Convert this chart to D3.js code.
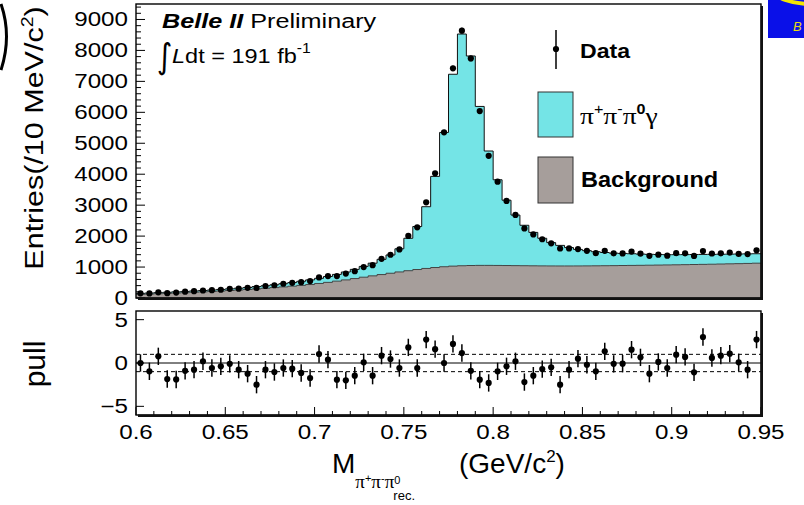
<!DOCTYPE html>
<html>
<head>
<meta charset="utf-8">
<script src="https://cdn.jsdelivr.net/npm/d3@7"></script>
<style>
  body { margin: 0; background: #fff; }
  svg { display: block; }
  text { font-family: "Liberation Sans", Arial, Helvetica, sans-serif; }
</style>
</head>
<body>
<svg id="chart" width="804" height="505"></svg>
<script>
// Bin centres of the recoil three-pion mass (GeV/c^2), 5 MeV wide bins
const massCenters = [
  0.6025, 0.6075, 0.6125, 0.6175, 0.6225, 0.6275, 0.6325, 0.6375, 0.6425, 0.6475,
  0.6525, 0.6575, 0.6625, 0.6675, 0.6725, 0.6775, 0.6825, 0.6875, 0.6925, 0.6975,
  0.7025, 0.7075, 0.7125, 0.7175, 0.7225, 0.7275, 0.7325, 0.7375, 0.7425, 0.7475,
  0.7525, 0.7575, 0.7625, 0.7675, 0.7725, 0.7775, 0.7825, 0.7875, 0.7925, 0.7975,
  0.8025, 0.8075, 0.8125, 0.8175, 0.8225, 0.8275, 0.8325, 0.8375, 0.8425, 0.8475,
  0.8525, 0.8575, 0.8625, 0.8675, 0.8725, 0.8775, 0.8825, 0.8875, 0.8925, 0.8975,
  0.9025, 0.9075, 0.9125, 0.9175, 0.9225, 0.9275, 0.9325, 0.9375, 0.9425, 0.9475
];
const binWidth = 0.005;

// Observed entries per bin
const dataCounts = [
  150, 149, 182, 157, 175, 205, 222, 243, 253, 266,
  296, 302, 328, 325, 388, 412, 460, 490, 510, 546,
  665, 708, 710, 790, 866, 1000, 1060, 1265, 1398, 1570,
  2005, 2283, 3093, 4030, 5352, 7420, 8637, 7742, 6040, 4595,
  3760, 3137, 2686, 2247, 2055, 1898, 1768, 1600, 1602, 1580,
  1525, 1450, 1525, 1445, 1440, 1500, 1433, 1362, 1400, 1368,
  1450, 1445, 1360, 1519, 1438, 1445, 1467, 1423, 1420, 1541
];

// Fitted total (signal + background) per bin
const totalModel = [
  150, 160, 172, 184, 198, 213, 228, 243, 259, 276,
  295, 316, 340, 370, 395, 427, 462, 500, 540, 585,
  636, 695, 762, 840, 925, 1020, 1125, 1250, 1390, 1590,
  1930, 2310, 2950, 3930, 5350, 7230, 8530, 7820, 6190, 4750,
  3820, 3160, 2680, 2350, 2120, 1930, 1790, 1700, 1630, 1570,
  1530, 1495, 1470, 1450, 1440, 1430, 1420, 1412, 1405, 1400,
  1400, 1402, 1405, 1408, 1410, 1414, 1418, 1422, 1426, 1430
];

// Fitted background component per bin
const backgroundModel = [
  120, 128, 138, 148, 160, 172, 185, 198, 212, 226,
  242, 258, 276, 295, 315, 336, 358, 382, 407, 435,
  470, 505, 545, 585, 628, 672, 715, 757, 800, 842,
  882, 920, 955, 985, 1010, 1030, 1042, 1050, 1054, 1054,
  1052, 1049, 1046, 1043, 1040, 1038, 1036, 1035, 1035, 1036,
  1038, 1040, 1043, 1046, 1050, 1053, 1056, 1060, 1064, 1068,
  1072, 1077, 1082, 1087, 1092, 1098, 1104, 1110, 1117, 1125
];

// Pull of each bin, (data - fit) / error
const pulls = [
   0.0, -0.96,  0.77, -1.85, -1.9, -0.9, -0.77,  0.2, -0.58, -0.38,
  -0.1, -0.77, -1.23, -2.5, -0.77, -1.04, -0.58, -0.65, -1.15, -1.73,
   1.04,  0.38, -1.92, -2.0, -1.46,  0.08, -1.46,  0.85,  0.46, -0.58,
   1.8, -0.58,  2.7,  1.6,  0.0,  2.2,  1.15, -0.9, -1.92, -2.3,
  -0.96, -0.38,  0.2, -2.2, -1.46, -0.7, -0.5, -2.5, -0.77,  0.5,
  -0.2, -0.96,  1.35, -0.1, -0.08,  1.54,  0.65, -1.23,  0.12, -0.58,
   0.96,  0.7, -1.08,  3.0,  0.58,  0.85,  1.08,  0.08, -0.77,  2.7
];

const yTickValues = [0, 1000, 2000, 3000, 4000, 5000, 6000, 7000, 8000, 9000];
const pullTickValues = [-5, 0, 5];
const xTickValues = [0.6, 0.65, 0.7, 0.75, 0.8, 0.85, 0.9, 0.95];
const xTickLabels = ["0.6", "0.65", "0.7", "0.75", "0.8", "0.85", "0.9", "0.95"];

const colSignal = "#74e4e6";
const colBkg = "#a69e9b";

const svg = d3.select("#chart");

// Layout of the two pads
const L = 136, R = 761;
const mainTop = 4, mainBot = 298;
const pullTop = 311, pullBot = 415;

const x = d3.scaleLinear().domain([0.6, 0.95]).range([L, R]);
const y = d3.scaleLinear().domain([0, 9500]).range([mainBot, mainTop]);
const yp = d3.scaleLinear().domain([-6, 6]).range([pullBot, pullTop]);

// Horizontal glyph stretch used throughout the canvas text
const SX = 1.24;
function label(g, str, px, py, opts = {}) {
  const t = g.append("text")
    .attr("transform", `translate(${px},${py}) scale(${opts.sx || SX},1)`)
    .attr("font-size", opts.size || 20)
    .attr("text-anchor", opts.anchor || "start")
    .attr("fill", opts.fill || "#000");
  if (opts.weight) t.attr("font-weight", opts.weight);
  if (opts.style) t.attr("font-style", opts.style);
  t.text(str);
  return t;
}

svg.append("defs").append("clipPath").attr("id", "mainClip")
  .append("rect").attr("x", L).attr("y", mainTop).attr("width", R - L).attr("height", mainBot - mainTop);

// Step histograms
function stepPoints(vals) {
  const pts = massCenters.map((c, i) => [c - binWidth / 2, vals[i]]);
  pts.push([massCenters[massCenters.length - 1] + binWidth / 2, vals[vals.length - 1]]);
  return pts;
}
const area = d3.area().curve(d3.curveStepAfter)
  .x(d => x(d[0])).y0(y(0)).y1(d => y(d[1]));
const line = d3.line().curve(d3.curveStepAfter)
  .x(d => x(d[0])).y(d => y(d[1]));

const hg = svg.append("g").attr("clip-path", "url(#mainClip)");
hg.append("path").datum(stepPoints(totalModel)).attr("d", area).attr("fill", colSignal);
hg.append("path").datum(stepPoints(totalModel)).attr("d", line)
  .attr("fill", "none").attr("stroke", "#111").attr("stroke-width", 1);
hg.append("path").datum(stepPoints(backgroundModel)).attr("d", area).attr("fill", colBkg);
hg.append("path").datum(stepPoints(backgroundModel)).attr("d", line)
  .attr("fill", "none").attr("stroke", "#444").attr("stroke-width", 1);

// Data points with Poisson errors
const dg = svg.append("g");
dg.selectAll("line.err").data(massCenters).join("line")
  .attr("x1", d => x(d)).attr("x2", d => x(d))
  .attr("y1", (d, i) => y(dataCounts[i] + Math.sqrt(dataCounts[i])))
  .attr("y2", (d, i) => y(dataCounts[i] - Math.sqrt(dataCounts[i])))
  .attr("stroke", "#000").attr("stroke-width", 1.5);
dg.selectAll("circle").data(massCenters).join("circle")
  .attr("cx", d => x(d)).attr("cy", (d, i) => y(dataCounts[i]))
  .attr("r", 3.1).attr("fill", "#000");

// Main pad y-axis ticks (inward) and labels
const axg = svg.append("g");
const minorY = d3.range(0, 9401, 200);
axg.selectAll("line.ty").data(minorY).join("line")
  .attr("x1", L).attr("x2", d => L + (d % 1000 === 0 ? 9 : 5))
  .attr("y1", d => y(d)).attr("y2", d => y(d))
  .attr("stroke", "#000").attr("stroke-width", 1);
yTickValues.forEach(v => label(axg, String(v), 128, y(v) + 7, { anchor: "end", size: 19.5 }));

// Frames with the darker lower/right edge
function frame(top, bot) {
  svg.append("rect").attr("x", L).attr("y", top).attr("width", R - L).attr("height", bot - top)
    .attr("fill", "none").attr("stroke", "#000").attr("stroke-width", 1.4);
  svg.append("line").attr("x1", R + 0.8).attr("x2", R + 0.8).attr("y1", top + 2).attr("y2", bot + 2)
    .attr("stroke", "#111").attr("stroke-width", 2.4);
  svg.append("line").attr("x1", L + 2).attr("x2", R + 2).attr("y1", bot + 0.8).attr("y2", bot + 0.8)
    .attr("stroke", "#111").attr("stroke-width", 2.4);
}
frame(mainTop, mainBot);

// Pull pad
const pg = svg.append("g");
[-1, 1].forEach(v => pg.append("line")
  .attr("x1", L).attr("x2", R).attr("y1", yp(v)).attr("y2", yp(v))
  .attr("stroke", "#000").attr("stroke-width", 1).attr("stroke-dasharray", "4,3"));
pg.append("line").attr("x1", L).attr("x2", R).attr("y1", yp(0)).attr("y2", yp(0))
  .attr("stroke", "#000").attr("stroke-width", 1);
pg.selectAll("line.perr").data(massCenters).join("line")
  .attr("x1", d => x(d)).attr("x2", d => x(d))
  .attr("y1", (d, i) => yp(pulls[i] + 1)).attr("y2", (d, i) => yp(pulls[i] - 1))
  .attr("stroke", "#000").attr("stroke-width", 1.5);
pg.selectAll("circle").data(massCenters).join("circle")
  .attr("cx", d => x(d)).attr("cy", (d, i) => yp(pulls[i]))
  .attr("r", 3.1).attr("fill", "#000");
pullTickValues.forEach(v => pg.append("line")
  .attr("x1", L).attr("x2", L + 8).attr("y1", yp(v)).attr("y2", yp(v))
  .attr("stroke", "#000").attr("stroke-width", 1));
pullTickValues.forEach(v => label(pg, v < 0 ? "\u2212" + Math.abs(v) : String(v), 128, yp(v) + 7, { anchor: "end", size: 19.5 }));

// x ticks along the pull pad bottom
const minorX = d3.range(60, 96, 1).map(v => v / 100);
pg.selectAll("line.tx").data(minorX).join("line")
  .attr("x1", d => x(d)).attr("x2", d => x(d))
  .attr("y1", pullBot).attr("y2", (d, i) => pullBot - (i % 5 === 0 ? 8 : 4))
  .attr("stroke", "#000").attr("stroke-width", 1);
xTickValues.forEach((v, i) => label(pg, xTickLabels[i], x(v), 439, { anchor: "middle", size: 19.5 }));
frame(pullTop, pullBot);

// Axis titles
const ytitle = svg.append("text")
  .attr("transform", "translate(43,138) rotate(-90) scale(1,0.85)")
  .attr("text-anchor", "middle").attr("font-size", 30.5);
ytitle.append("tspan").text("Entries(/10 MeV/c");
ytitle.append("tspan").attr("font-size", 19.5).attr("dy", -12).text("2");
ytitle.append("tspan").attr("dy", 12).text(")");

svg.append("text").attr("transform", "translate(45,364) rotate(-90)")
  .attr("text-anchor", "middle").attr("font-size", 30).text("pull");

const xtitle = svg.append("text").attr("transform", "translate(332,473)")
  .attr("font-size", 28);
xtitle.append("tspan").text("M");
xtitle.append("tspan").attr("font-size", 19).attr("dy", 15).style("font-family", "'Liberation Serif', serif").text("\u03c0");
xtitle.append("tspan").attr("font-size", 11).attr("dy", -6).text("+");
xtitle.append("tspan").attr("font-size", 19).attr("dy", 6).style("font-family", "'Liberation Serif', serif").text("\u03c0");
xtitle.append("tspan").attr("font-size", 11).attr("dy", -6).text("-");
xtitle.append("tspan").attr("font-size", 19).attr("dy", 6).style("font-family", "'Liberation Serif', serif").text("\u03c0");
xtitle.append("tspan").attr("font-size", 11).attr("dy", -4).text("0");
xtitle.append("tspan").attr("font-size", 13).attr("dx", -7).attr("dy", 16).text("rec.");
xtitle.append("tspan").attr("font-size", 28).attr("dy", -27).attr("x", 127).text("(GeV/c");
xtitle.append("tspan").attr("font-size", 17).attr("dy", -11).text("2");
xtitle.append("tspan").attr("font-size", 28).attr("dy", 11).text(")");

// Collaboration label and luminosity
const bl = svg.append("text").attr("transform", "translate(162,28) scale(1.2,1)").attr("font-size", 21);
bl.append("tspan").attr("font-weight", "bold").attr("font-style", "italic").text("Belle II");
bl.append("tspan").text(" Preliminary");

svg.append("text").attr("transform", "translate(157,68) scale(1,1.15)").attr("font-size", 30)
  .style("font-family", "'DejaVu Sans', sans-serif").text("\u222b");
const lum = svg.append("text").attr("transform", "translate(172,63) scale(1.12,1)").attr("font-size", 21);
lum.append("tspan").attr("font-style", "italic").text("L");
lum.append("tspan").text("dt = 191 fb");
lum.append("tspan").attr("font-size", 14).attr("dy", -10).text("-1");

// Legend
const lg = svg.append("g");
lg.append("line").attr("x1", 556).attr("x2", 556).attr("y1", 30).attr("y2", 69)
  .attr("stroke", "#000").attr("stroke-width", 1.5);
lg.append("circle").attr("cx", 556).attr("cy", 49).attr("r", 3.1).attr("fill", "#000");
label(lg, "Data", 580, 58, { size: 21, weight: "bold", sx: 1.1 });
lg.append("rect").attr("x", 538).attr("y", 92).attr("width", 35).attr("height", 45)
  .attr("fill", colSignal).attr("stroke", "#333").attr("stroke-width", 1);
const sigLab = lg.append("text").attr("transform", "translate(580,124) scale(1.15,1)").attr("font-size", 24)
  .style("font-family", "'Liberation Serif', serif");
sigLab.append("tspan").text("\u03c0");
sigLab.append("tspan").attr("font-size", 14).attr("dy", -10).style("font-family", "'Liberation Sans', sans-serif").text("+");
sigLab.append("tspan").attr("dy", 10).text("\u03c0");
sigLab.append("tspan").attr("font-size", 14).attr("dy", -10).style("font-family", "'Liberation Sans', sans-serif").text("-");
sigLab.append("tspan").attr("dy", 10).text("\u03c0");
sigLab.append("tspan").attr("font-size", 14).attr("dy", -10).attr("font-weight", "bold").style("font-family", "'Liberation Sans', sans-serif").text("0");
sigLab.append("tspan").attr("dy", 10).text("\u03b3");
lg.append("rect").attr("x", 538).attr("y", 157).attr("width", 35).attr("height", 46)
  .attr("fill", colBkg).attr("stroke", "#333").attr("stroke-width", 1);
label(lg, "Background", 581, 187, { size: 22, weight: "bold", sx: 1.07 });

// Slide decorations at the edges
svg.append("rect").attr("x", 768).attr("y", 0).attr("width", 36).attr("height", 38).attr("fill", "#0a10e8");
svg.append("ellipse").attr("cx", 812).attr("cy", -10).attr("rx", 38).attr("ry", 14)
  .attr("fill", "none").attr("stroke", "#f2e600").attr("stroke-width", 4);
svg.append("text").attr("x", 793).attr("y", 31).attr("font-size", 13).attr("font-style", "italic")
  .attr("fill", "#e8dc10").text("B");
svg.append("path").attr("d", "M1,4 Q12,36 1,70").attr("fill", "none")
  .attr("stroke", "#000").attr("stroke-width", 3);
</script>
</body>
</html>
